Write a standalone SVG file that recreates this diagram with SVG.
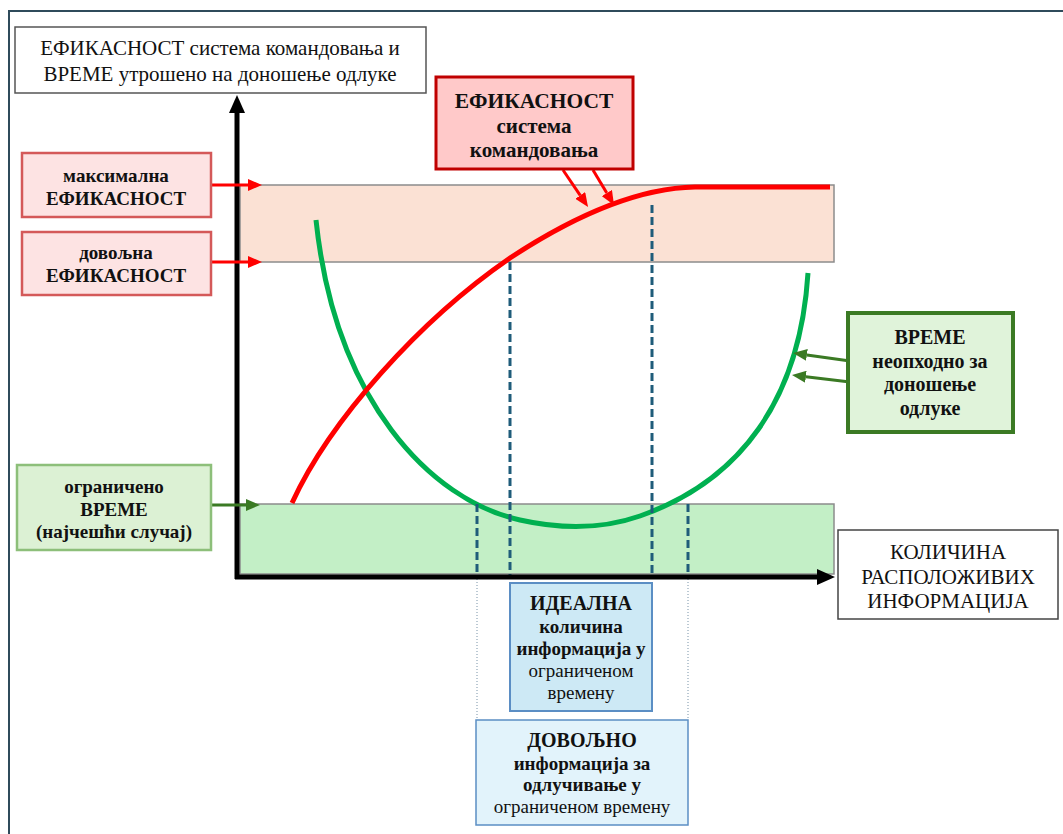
<svg xmlns="http://www.w3.org/2000/svg" width="1063" height="834" viewBox="0 0 1063 834">
  <style>
    text { font-family: "Liberation Serif", "Times New Roman", serif; fill: #111; text-anchor: middle; }
    .b { font-weight: bold; }
    .band { stroke: #8c8c8c; stroke-width: 1.5; }
    .axis { stroke: #000; stroke-width: 5; fill: none; }
    .red { stroke: #ff0000; stroke-width: 3; fill: none; }
    .grn { stroke: #3b7a24; stroke-width: 3; fill: none; }
    .dash { stroke: #1f5c7a; stroke-width: 3; stroke-dasharray: 8 4; fill: none; }
    .dot { stroke: #7893a8; stroke-width: 1; stroke-dasharray: 1 2; fill: none; }
  </style>
  <defs>
    <marker id="ahBlack" markerUnits="userSpaceOnUse" viewBox="0 0 18 16" markerWidth="18" markerHeight="16" refX="0" refY="8" orient="auto">
      <path d="M0,0 L18,8 L0,16 z" fill="#000"/>
    </marker>
    <marker id="ahRed" markerUnits="userSpaceOnUse" viewBox="0 0 14 12" markerWidth="14" markerHeight="12" refX="0" refY="6" orient="auto">
      <path d="M0,0 L14,6 L0,12 z" fill="#ff0000"/>
    </marker>
    <marker id="ahGreen" markerUnits="userSpaceOnUse" viewBox="0 0 14 12" markerWidth="14" markerHeight="12" refX="0" refY="6" orient="auto">
      <path d="M0,0 L14,6 L0,12 z" fill="#3b7a24"/>
    </marker>
  </defs>

  <rect width="1063" height="834" fill="#fff"/>
  <!-- outer frame -->
  <rect x="9" y="11" width="1070" height="840" fill="none" stroke="#2f4b5b" stroke-width="2"/>

  <!-- bands -->
  <rect class="band" x="240" y="185" width="594" height="77" fill="#fbe1d4"/>
  <rect class="band" x="240" y="504" width="594" height="70" fill="#c3efc6"/>

  <!-- curves and guide lines -->
  <g id="curves">
    <path d="M316,220 C335,400 430,500 520,520 C560,529 600,530 640,516 C740,481 800,400 808,273" fill="none" stroke="#00b050" stroke-width="5"/>
    <path d="M292,503 C330,420 420,320 510,258 C580,212 640,188 695,187 L830,187" fill="none" stroke="#ff0000" stroke-width="5"/>
    <line class="dash" x1="510" y1="262" x2="510" y2="576"/>
    <line class="dash" x1="652" y1="205" x2="652" y2="576"/>
    <line class="dash" x1="477" y1="504" x2="477" y2="576"/>
    <line class="dash" x1="688" y1="504" x2="688" y2="576"/>
    <line class="dot" x1="477" y1="579" x2="477" y2="720"/>
    <line class="dot" x1="688" y1="579" x2="688" y2="720"/>
  </g>

  <!-- axes -->
  <g id="axes">
    <line class="axis" x1="237" y1="579" x2="237" y2="113" marker-end="url(#ahBlack)"/>
    <line class="axis" x1="235" y1="577" x2="817" y2="577" marker-end="url(#ahBlack)"/>
  </g>

  <!-- connectors -->
  <g id="connectors">
    <line class="red" x1="211" y1="185" x2="248" y2="185" marker-end="url(#ahRed)"/>
    <line class="red" x1="211" y1="262" x2="248" y2="262" marker-end="url(#ahRed)"/>
    <line class="red" x1="563" y1="170" x2="580.2" y2="195.4" marker-end="url(#ahRed)"/>
    <line class="red" x1="593" y1="170" x2="606.8" y2="193" marker-end="url(#ahRed)"/>
    <line class="grn" x1="211" y1="505" x2="246" y2="505" marker-end="url(#ahGreen)"/>
    <line class="grn" x1="850" y1="361" x2="806.9" y2="354.9" marker-end="url(#ahGreen)"/>
    <line class="grn" x1="850" y1="382" x2="805.9" y2="376.7" marker-end="url(#ahGreen)"/>
  </g>

  <g id="title">
    <rect x="15" y="27" width="411" height="66" fill="#fff" stroke="#555" stroke-width="1.5"/>
    <text x="220" y="55" font-size="21">ЕФИКАСНОСТ система командовања и</text>
    <text x="220" y="81" font-size="21">ВРЕМЕ утрошено на доношење одлуке</text>
  </g>

  <g id="efficiency">
    <rect x="436" y="77" width="197" height="92" fill="#ffc9c9" stroke="#c00000" stroke-width="3"/>
    <text class="b" x="534" y="108" font-size="21.5">ЕФИКАСНОСТ</text>
    <text class="b" x="534" y="133" font-size="21">система</text>
    <text class="b" x="534" y="157" font-size="21">командовања</text>
  </g>

  <g id="max-efficiency">
    <rect x="22" y="153" width="189" height="64" fill="#fde3e3" stroke="#d45959" stroke-width="2.5"/>
    <text class="b" x="116" y="182" font-size="19">максимална</text>
    <text class="b" x="116" y="205" font-size="19">ЕФИКАСНОСТ</text>
  </g>

  <g id="enough-efficiency">
    <rect x="22" y="232" width="189" height="63" fill="#fde3e3" stroke="#d45959" stroke-width="2.5"/>
    <text class="b" x="116" y="259" font-size="19">довољна</text>
    <text class="b" x="116" y="282" font-size="19">ЕФИКАСНОСТ</text>
  </g>

  <g id="limited-time">
    <rect x="17" y="465" width="194" height="85" fill="#dcf1d4" stroke="#8dbf7a" stroke-width="2.5"/>
    <text class="b" x="114" y="493" font-size="19">ограничено</text>
    <text class="b" x="114" y="516" font-size="19">ВРЕМЕ</text>
    <text class="b" x="114" y="538" font-size="19">(најчешћи случај)</text>
  </g>

  <g id="time-needed">
    <rect x="848" y="313" width="165" height="119" fill="#e0f3da" stroke="#3b7a24" stroke-width="4"/>
    <text class="b" x="930" y="344" font-size="20">ВРЕМЕ</text>
    <text class="b" x="930" y="368" font-size="20">неопходно за</text>
    <text class="b" x="930" y="391" font-size="20">доношење</text>
    <text class="b" x="930" y="415" font-size="20">одлуке</text>
  </g>

  <g id="info-amount">
    <rect x="838" y="530" width="220" height="89" fill="#fff" stroke="#444" stroke-width="1.5"/>
    <text x="948" y="559" font-size="21">КОЛИЧИНА</text>
    <text x="948" y="584" font-size="21">РАСПОЛОЖИВИХ</text>
    <text x="948" y="608" font-size="21">ИНФОРМАЦИЈА</text>
  </g>

  <g id="ideal">
    <rect x="510" y="583" width="142" height="128" fill="#cde9f5" stroke="#5b8ec4" stroke-width="2"/>
    <text class="b" x="581" y="610" font-size="20">ИДЕАЛНА</text>
    <text class="b" x="581" y="633" font-size="19">количина</text>
    <text class="b" x="581" y="655" font-size="19">информација у</text>
    <text x="581" y="677" font-size="19">ограниченом</text>
    <text x="581" y="699" font-size="19">времену</text>
  </g>

  <g id="enough">
    <rect x="476" y="720" width="212" height="105" fill="#e2f3fb" stroke="#5b8ec4" stroke-width="1.5"/>
    <text class="b" x="582" y="747" font-size="20">ДОВОЉНО</text>
    <text class="b" x="582" y="770" font-size="19">информација за</text>
    <text class="b" x="582" y="791" font-size="19">одлучивање у</text>
    <text x="582" y="813" font-size="19">ограниченом времену</text>
  </g>
</svg>
